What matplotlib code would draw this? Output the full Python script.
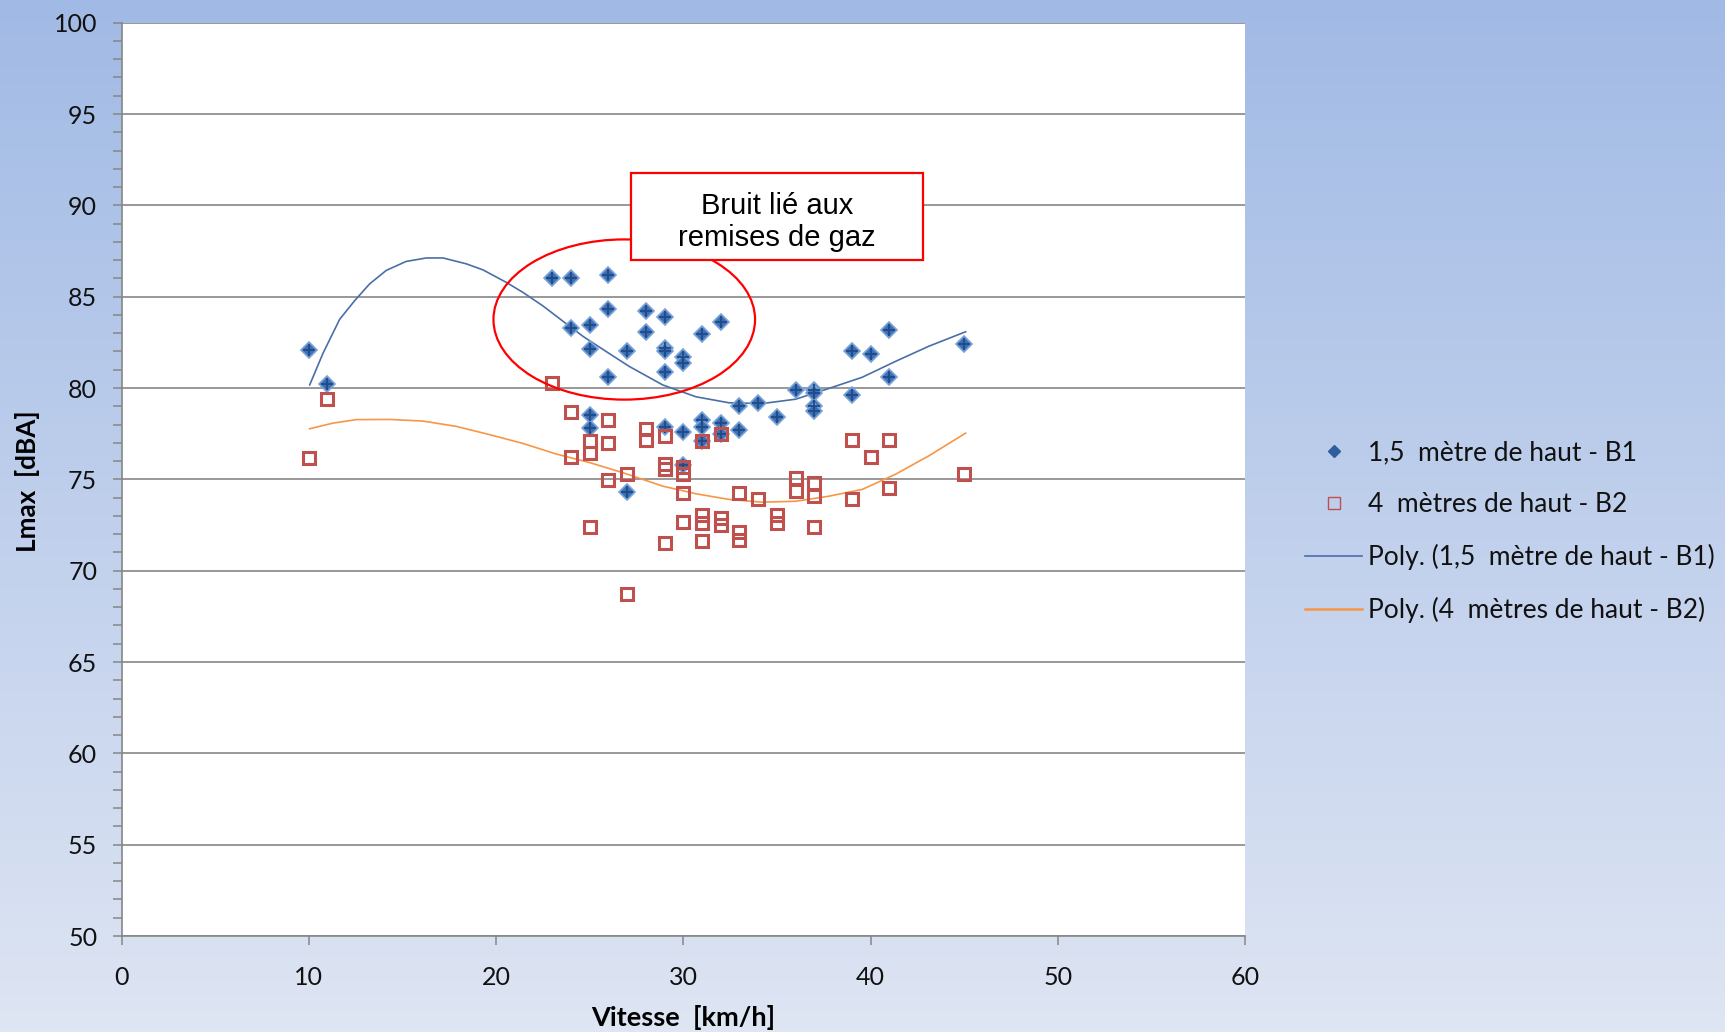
import numpy as np
import matplotlib
matplotlib.use("Agg")
import matplotlib.pyplot as plt
from matplotlib.patches import Ellipse, Rectangle
from matplotlib.lines import Line2D

# ---------------- data ----------------
b1_x = [10, 11, 23, 24, 24, 25, 25, 25, 25, 26, 26, 26, 27, 27, 28, 28,
        29, 29, 29, 29, 29, 30, 30, 30, 30, 31, 31, 31, 31, 32, 32, 32,
        33, 33, 34, 35, 36, 37, 37, 37, 37, 39, 39, 40, 41, 41, 45]
b1_y = [82.1, 80.2, 86.0, 86.0, 83.3, 83.45, 82.15, 78.5, 77.8, 86.2, 84.35, 80.6, 82.05, 74.3, 84.2, 83.05,
        83.9, 82.2, 82.0, 80.9, 77.85, 81.7, 81.35, 77.6, 75.8, 82.95, 78.25, 77.85, 77.1, 83.6, 78.1, 77.5,
        79.0, 77.7, 79.2, 78.4, 79.9, 79.9, 79.7, 79.0, 78.75, 82.05, 79.6, 81.85, 83.15, 80.6, 82.4]

b2_x = [10, 11, 23, 24, 24, 25, 25, 25, 26, 26, 26, 27, 27, 28, 28,
        29, 29, 29, 29, 30, 30, 30, 30, 31, 31, 31, 31, 32, 32, 32,
        33, 33, 33, 34, 35, 35, 36, 36, 37, 37, 37, 39, 39, 40, 41, 41, 45]
b2_y = [76.15, 79.4, 80.25, 78.7, 76.25, 77.1, 76.45, 72.4, 78.25, 77.0, 74.95, 75.3, 68.7, 77.75, 77.15,
        77.35, 75.85, 75.55, 71.5, 75.7, 75.3, 74.25, 72.65, 77.1, 73.05, 72.6, 71.65, 77.5, 72.9, 72.5,
        74.25, 72.1, 71.7, 73.95, 73.05, 72.6, 75.1, 74.35, 74.8, 74.1, 72.4, 77.15, 73.9, 76.2, 77.15, 74.5, 75.3]

# trend curves (Excel "Poly." trendlines)
t1_x = [10.05, 10.76, 11.65, 12.45, 13.25, 14.14, 15.2, 16.28, 17.17, 18.41, 19.3, 20.54, 21.43, 22.5,
        23.56, 24.63, 25.88, 27.12, 28.9, 30.68, 32.45, 34.23, 36.01, 37.79, 39.56, 41.34, 43.12, 45.08]
t1_y = [80.17, 81.9, 83.76, 84.78, 85.7, 86.44, 86.93, 87.12, 87.12, 86.8, 86.47, 85.79, 85.24, 84.5,
        83.67, 82.84, 82.0, 81.18, 80.17, 79.52, 79.19, 79.15, 79.39, 79.98, 80.59, 81.46, 82.29, 83.08]
t2_x = [10.05, 11.3, 12.54, 14.32, 16.1, 17.88, 19.65, 21.43, 23.21, 24.99, 26.76, 28.9, 30.68,
        32.45, 34.23, 36.01, 37.79, 39.56, 41.34, 43.12, 45.08]
t2_y = [77.77, 78.08, 78.27, 78.28, 78.19, 77.9, 77.45, 76.97, 76.39, 75.92, 75.37, 74.63, 74.21,
        73.9, 73.75, 73.8, 74.08, 74.45, 75.28, 76.29, 77.53]

labels = ["1,5  mètre de haut - B1", "4  mètres de haut - B2",
          "Poly. (1,5  mètre de haut - B1)", "Poly. (4  mètres de haut - B2)"]
x_ticks = [0, 10, 20, 30, 40, 50, 60]
y_ticks = [50, 55, 60, 65, 70, 75, 80, 85, 90, 95, 100]
annotation = "Bruit lié aux\nremises de gaz"
x_title = "Vitesse  [km/h]"
y_title = "Lmax  [dBA]"

# ---------------- figure ----------------
W, H = 1725, 1032
fig = plt.figure(figsize=(W / 100, H / 100), dpi=100)

# gradient background
bg = fig.add_axes([0, 0, 1, 1], zorder=-10)
top = np.array([161, 186, 229]) / 255
bot = np.array([222, 229, 243]) / 255
t = np.linspace(0, 1, 256)[:, None]
grad = (top[None, :] * (1 - t) + bot[None, :] * t)[:, None, :]
bg.imshow(grad, aspect="auto", extent=[0, 1, 0, 1], origin="upper")
bg.set_axis_off()

FONT = ["Lato", "DejaVu Sans"]
GRAY = "#868686"

ax = fig.add_axes([121.5 / W, 1 - 936 / H, (1245 - 121.5) / W, (936 - 22.7) / H])
ax.set_facecolor("white")
ax.set_xlim(0, 60)
ax.set_ylim(50, 100)
ax.set_xticks(x_ticks)
ax.set_yticks(y_ticks)
ax.set_yticks(np.arange(50, 101, 1), minor=True)
ax.yaxis.grid(True, which="major", color=GRAY, lw=1.2)
ax.set_axisbelow(True)
for s in ["top", "right"]:
    ax.spines[s].set_visible(False)
for s in ["left", "bottom"]:
    ax.spines[s].set_color(GRAY)
    ax.spines[s].set_linewidth(1.2)
ax.tick_params(axis="y", which="both", direction="out", length=6.5, width=1.1, color=GRAY,
               labelsize=18, pad=11)
ax.tick_params(axis="x", which="major", direction="out", length=6.5, width=1.1, color=GRAY,
               labelsize=18, pad=15)
for lab in ax.get_xticklabels() + ax.get_yticklabels():
    lab.set_family(FONT)
    lab.set_color("#111111")

# trend lines
ax.plot(t1_x, t1_y, color="#4A6FA8", lw=1.2, zorder=3)
ax.plot(t2_x, t2_y, color="#F79646", lw=1.2, zorder=3)

# scatter series
ax.plot(b1_x, b1_y, ls="none", marker="D", ms=8, mfc="#3D6FB5", mec="#7AA3D8", mew=1.2, zorder=4)
ax.plot(b1_x, b1_y, ls="none", marker="+", ms=8.5, mec="#1F4A87", mew=1.3, zorder=4)
ax.plot(b2_x, b2_y, ls="none", marker="s", ms=8, mfc="none", mec="#C0504D", mew=2.2, zorder=5)

# annotation: ellipse + box
ax.add_patch(Ellipse((26.85, 83.75), 13.97, 8.77, fill=False, ec="#FF0000", lw=1.6, zorder=6))
ax.add_patch(Rectangle((27.21, 86.99), 42.8 - 27.21, 91.79 - 86.99, fc="white", ec="#FF0000",
                       lw=1.6, zorder=7))
ax.text((27.21 + 42.8) / 2, (86.99 + 91.79) / 2 - 0.3, annotation, ha="center", va="center",
        fontsize=21, family=["Liberation Sans", "DejaVu Sans"], linespacing=1.2, zorder=8)

# axis titles
fig.text(28 / W, 1 - 481 / H, y_title, rotation=90, ha="center", va="center",
         fontsize=18.8, fontweight="bold", family=FONT)
fig.text(683 / W, 1 - 1018 / H, x_title, ha="center", va="center",
         fontsize=19.5, fontweight="bold", family=FONT)

# legend
handles = [
    Line2D([], [], ls="none", marker="D", ms=6, mfc="#2F5E9E", mec="#2F5E9E"),
    Line2D([], [], ls="none", marker="s", ms=8, mfc="none", mec="#C0504D", mew=1.0),
    Line2D([], [], color="#4A6FA8", lw=1.2),
    Line2D([], [], color="#F79646", lw=1.8),
]
leg = fig.legend(handles, labels, loc="center left",
                 bbox_to_anchor=(1305 / W, 1 - 532 / H), frameon=False,
                 borderpad=0, borderaxespad=0, handlelength=2.16, handletextpad=0.23,
                 labelspacing=1.02, prop={"family": FONT, "size": 19})
for txt in leg.get_texts():
    txt.set_color("#111111")

fig.savefig("out.png", dpi=100)
